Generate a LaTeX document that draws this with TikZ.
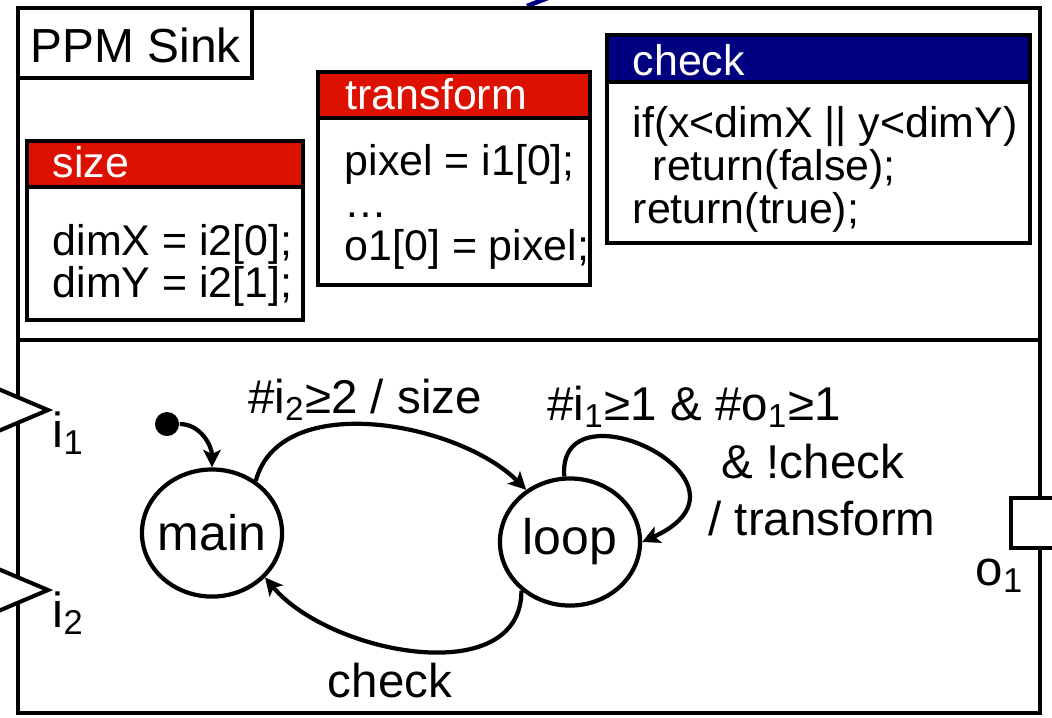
\documentclass[tikz,border=0pt]{standalone}
\usepackage{fontspec}
\setmainfont{Liberation Sans}
\usetikzlibrary{arrows.meta,shapes.geometric,positioning}
\definecolor{hdred}{RGB}{221,17,0}
\definecolor{hdblue}{RGB}{0,0,128}
\tikzset{
  outerline/.style={line width=1.15pt},
  codebox/.style={line width=1.4pt},
  hdtext/.style={anchor=base west, inner sep=0pt, text=white, font=\fontsize{12.2}{14}\selectfont},
  code/.style={anchor=base west, inner sep=0pt, font=\fontsize{12.2}{14}\selectfont},
  state/.style={ellipse, draw, line width=1.2pt, minimum width=1.4cm, minimum height=1.27cm, inner ysep=0pt, inner xsep=-0.05cm, font=\fontsize{14.2}{16}\selectfont},
  trans/.style={line width=1.2pt, -{Stealth[length=5pt,width=5pt,inset=1.2pt]}},
  lbl/.style={anchor=base, inner sep=0pt, font=\fontsize{13.5}{16}\selectfont},
  port/.style={line width=1.15pt, fill=white},
  plbl/.style={anchor=base west, inner sep=0pt, font=\fontsize{14}{16}\selectfont}
}
\begin{document}
\begin{tikzpicture}[x=0.01cm,y=-0.01cm]
\useasboundingbox (0,0) rectangle (1052,717);
\draw[hdblue,line width=1.3pt] (527,6) -- (558,-6);
\draw[outerline] (18,8) rectangle (1040,713);
\draw[outerline] (18,340) -- (1040,340);
\draw[outerline] (18,8) rectangle (252,78);
\node[anchor=base west,inner sep=0pt,font=\fontsize{13.6}{16}\selectfont] (title) at (30,62) {PPM Sink};
% size
\fill[hdred] (27,141) rectangle (303,187);
\draw[codebox] (27,141) rectangle (303,320) (27,187) -- (303,187);
\node[hdtext] (sizehd) at (52,177) {size};
\node[code] (size1) at (52,255) {dimX = i2[0];};
\node[code] (size2) at (52,297) {dimY = i2[1];};
% transform
\fill[hdred] (318,72) rectangle (590,118);
\draw[codebox] (318,72) rectangle (590,285) (318,118) -- (590,118);
\node[hdtext] (trhd) at (345,109) {transform};
\node[code] (tr1) at (344,175) {pixel = i1[0];};
\node[code] (tr2) at (344,217) {…};
\node[code] (tr3) at (344,260) {o1[0] = pixel;};
% check
\fill[hdblue] (607,35) rectangle (1030,82);
\draw[codebox] (607,35) rectangle (1030,243) (607,82) -- (1030,82);
\node[hdtext] (chkhd) at (632,75) {check};
\node[code] (chk1) at (632,137) {if(x<dimX || y<dimY)};
\node[code] (chk2) at (652,180) {return(false);};
\node[code] (chk3) at (632,223) {return(true);};
% ports
\draw[port] (-4,388) -- (48,410) -- (-4,432) -- cycle;
\node[plbl] (i1) at (52,447) {i\textsubscript{1}};
\draw[port] (-4,568) -- (48,590) -- (-4,612) -- cycle;
\node[plbl] (i2) at (52,627) {i\textsubscript{2}};
\draw[port] (1011,498) rectangle (1070,548);
\node[plbl] (o1) at (975,585) {o\textsubscript{1}};
% states
\node[state] (main) at (212,533) {main};
\node[state] (loop) at (570,542) {loop};
\node[circle,fill,inner sep=0pt,minimum size=0.24cm] (init) at (167,424) {};
\draw[trans] (init) to[out=0,in=90] (main.north);
\draw[trans] (main.50) to[out=75,in=135,looseness=0.9] (loop.130);
\draw[trans] (loop.95) .. controls +(-8,-98) and +(132,-60) .. (loop.0);
\draw[trans] (loop.225) to[out=-90,in=-50] (main.-40);
\node[lbl] (t1) at (365,413) {\#i\textsubscript{2}≥2 / size};
\node[lbl] (t2) at (694,420) {\#i\textsubscript{1}≥1 \& \#o\textsubscript{1}≥1};
\node[lbl] (t3) at (813,478) {\& !check};
\node[lbl] (t4) at (822,535) {/ transform};
\node[lbl] (t5) at (390,697) {check};
\end{tikzpicture}
\end{document}
